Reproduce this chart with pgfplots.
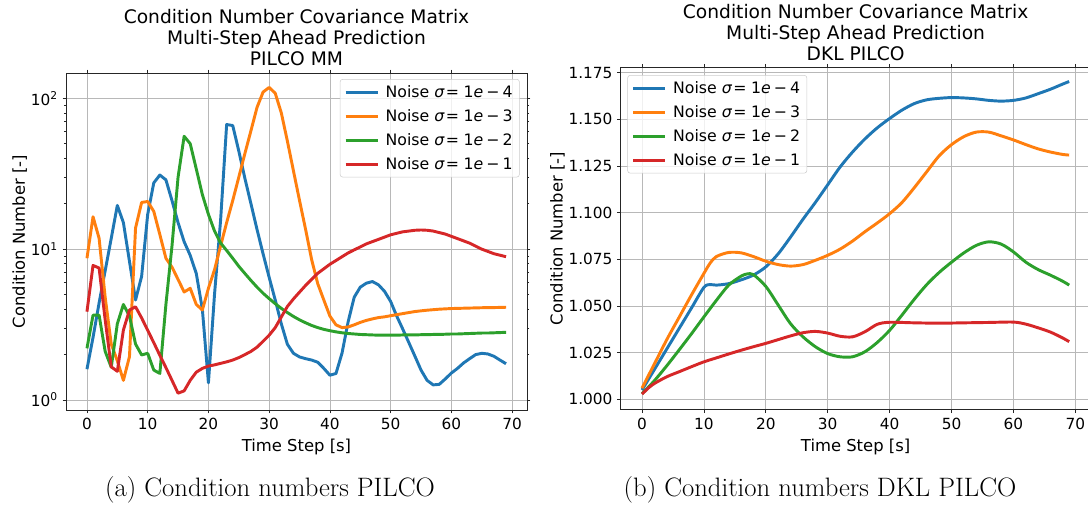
\documentclass[border=0pt]{standalone}
\usepackage{fontspec}
\newfontfamily\dejavu{DejaVu Sans}
\usepackage{pgfplots}
\pgfplotsset{compat=1.18}

\definecolor{tabblue}{HTML}{1F77B4}
\definecolor{taborange}{HTML}{FF7F0E}
\definecolor{tabgreen}{HTML}{2CA02C}
\definecolor{tabred}{HTML}{D62728}

\newcommand{\noise}[1]{Noise \textit{σ}\hspace{0.08em}=\hspace{0.28em}1\textit{e}\hspace{0.2em}−\hspace{0.2em}#1}

\pgfplotsset{
  mpl/.style={
    scale only axis,
    axis line style={black!85, line width=0.6pt},
    tick align=outside,
    major tick length=2.6pt,
    minor tick length=1.6pt,
    tick style={black!85, line width=0.6pt},
    grid=major,
    major grid style={black!28, line width=0.6pt},
    xmin=-3.45, xmax=72.45,
    xtick={0,10,...,70},
    tick label style={font=\dejavu\fontsize{11.5}{13}\selectfont},
    label style={font=\dejavu\fontsize{12.3}{14}\selectfont},
    ylabel shift=-4pt,
    title style={font=\dejavu\fontsize{14}{15.75}\selectfont, align=center,
                 yshift=-4.3pt},
    /pgf/number format/assume math mode=true,
    legend cell align=left,
    legend image code/.code={\draw[#1] (0pt,0pt) -- (24pt,0pt);},
    legend style={draw=black!20, rounded corners=2pt, fill=white,
                  fill opacity=0.8, text opacity=1,
                  font=\dejavu\fontsize{11.8}{13}\selectfont,
                  inner xsep=3pt, inner ysep=2.5pt, row sep=3.5pt,
                  /tikz/every odd column/.append style={column sep=3pt}},
    every axis plot/.append style={line width=2.2pt, line join=round},
  },
}

\begin{document}
\begin{tikzpicture}
\path[use as bounding box] (0,0) rectangle (816pt,-380.25pt);

%% (a) PILCO MM
\begin{axis}[
  mpl,
  at={(49.5pt,-54.75pt)}, anchor=north west,
  width=345.75pt, height=252.75pt,
  ymode=log,
  ymin=0.8586, ymax=147.1,
  ytick={1,10,100},
  yticklabels={10\textsuperscript{0},10\textsuperscript{1},10\textsuperscript{2}},
  title={Condition Number Covariance Matrix\\Multi-Step Ahead Prediction\\PILCO MM},
  xlabel={Time Step [s]},
  ylabel={Condition Number [-]},
  legend style={at={(1,1)}, anchor=north east, xshift=-5.5pt, yshift=-4.5pt},
]
\addplot[tabblue] coordinates {
(0,1.6)(1,2.6)(2,4.4)(3,7.2)(4,11.8)(5,19.5)(6,15)(7,8.3)(8,4.6)(9,6.6)
(10,17)(11,27.5)(12,31)(13,28.8)(14,21)(15,15)(16,11.2)(17,9.1)(18,6.9)(19,4.0)
(20,1.3)(21,5)(22,15.5)(23,67)(24,66)(25,44.7)(26,29.5)(27,20)(28,13.5)(29,9.3)
(30,6.5)(31,4.6)(32,3.2)(33,2.34)(34,2.04)(35,1.93)(36,1.88)(37,1.84)(38,1.78)(39,1.62)
(40,1.46)(41,1.5)(42,2.05)(43,3.3)(44,4.8)(45,5.6)(46,5.95)(47,6.1)(48,5.8)(49,5.25)
(50,4.5)(51,3.6)(52,2.95)(53,2.4)(54,1.95)(55,1.58)(56,1.35)(57,1.26)(58,1.27)(59,1.38)
(60,1.51)(61,1.62)(62,1.76)(63,1.88)(64,2.0)(65,2.04)(66,2.02)(67,1.95)(68,1.84)(69,1.74)
};
\addlegendentry{\noise{4}}
\addplot[taborange] coordinates {
(0,8.7)(1,16.4)(2,11.8)(3,4.8)(4,2.35)(5,1.82)(6,1.35)(7,1.94)(8,13.8)(9,20.4)
(10,20.7)(11,17.8)(12,12.5)(13,8.7)(14,7.6)(15,6.3)(16,5.2)(17,5.5)(18,4.3)(19,3.95)
(20,5.5)(21,7.3)(22,10.5)(23,15)(24,21)(25,30)(26,43)(27,61)(28,87)(29,110)
(30,118)(31,108)(32,80)(33,52)(34,33)(35,21)(36,13.5)(37,8.5)(38,5.9)(39,4.6)
(40,3.6)(41,3.15)(42,3.02)(43,3.05)(44,3.15)(45,3.27)(46,3.37)(47,3.45)(48,3.52)(49,3.56)
(50,3.62)(51,3.68)(52,3.74)(53,3.8)(54,3.86)(55,3.9)(56,3.94)(57,3.97)(58,4.0)(59,4.02)
(60,4.04)(61,4.05)(62,4.06)(63,4.07)(64,4.08)(65,4.09)(66,4.1)(67,4.1)(68,4.11)(69,4.12)
};
\addlegendentry{\noise{3}}
\addplot[tabgreen] coordinates {
(0,2.2)(1,3.65)(2,3.65)(3,2.1)(4,1.65)(5,3.2)(6,4.3)(7,3.6)(8,2.35)(9,1.99)
(10,2.04)(11,1.58)(12,1.5)(13,4.3)(14,10.5)(15,30)(16,56)(17,50)(18,34)(19,23)
(20,17)(21,13.2)(22,11)(23,9.8)(24,8.7)(25,7.7)(26,6.9)(27,6.2)(28,5.6)(29,5.1)
(30,4.7)(31,4.35)(32,4.05)(33,3.8)(34,3.58)(35,3.4)(36,3.25)(37,3.12)(38,3.02)(39,2.94)
(40,2.88)(41,2.83)(42,2.79)(43,2.76)(44,2.74)(45,2.72)(46,2.71)(47,2.7)(48,2.69)(49,2.69)
(50,2.69)(51,2.69)(52,2.7)(53,2.7)(54,2.7)(55,2.71)(56,2.71)(57,2.72)(58,2.72)(59,2.73)
(60,2.74)(61,2.74)(62,2.75)(63,2.76)(64,2.77)(65,2.78)(66,2.78)(67,2.79)(68,2.8)(69,2.81)
};
\addlegendentry{\noise{2}}
\addplot[tabred] coordinates {
(0,3.85)(1,7.8)(2,7.5)(3,3.4)(4,1.66)(5,1.55)(6,2.91)(7,3.95)(8,4.15)(9,3.5)
(10,2.9)(11,2.4)(12,1.98)(13,1.64)(14,1.35)(15,1.11)(16,1.15)(17,1.35)(18,1.53)(19,1.62)
(20,1.68)(21,1.71)(22,1.75)(23,1.79)(24,1.84)(25,1.91)(26,2.0)(27,2.1)(28,2.24)(29,2.45)
(30,2.69)(31,3.02)(32,3.55)(33,4.17)(34,4.68)(35,5.19)(36,5.75)(37,6.31)(38,6.92)(39,7.41)
(40,7.94)(41,8.41)(42,8.91)(43,9.44)(44,9.89)(45,10.35)(46,10.84)(47,11.22)(48,11.61)(49,12.02)
(50,12.45)(51,12.74)(52,13.03)(53,13.18)(54,13.34)(55,13.4)(56,13.34)(57,13.18)(58,12.88)(59,12.59)
(60,12.16)(61,11.75)(62,11.35)(63,10.96)(64,10.47)(65,10.0)(66,9.66)(67,9.33)(68,9.12)(69,8.91)
};
\addlegendentry{\noise{1}}
\end{axis}

%% (b) DKL PILCO
\begin{axis}[
  mpl,
  at={(465.5pt,-50.5pt)}, anchor=north west,
  width=352.4pt, height=256.8pt,
  ymin=0.99443, ymax=1.1779,
  ytick={1.000,1.025,...,1.176},
  scaled y ticks=false,
  yticklabel style={/pgf/number format/.cd, fixed, fixed zerofill, precision=3},
  title={Condition Number Covariance Matrix\\Multi-Step Ahead Prediction\\DKL PILCO},
  xlabel={Time Step [s]},
  ylabel={Condition Number [-]},
  legend style={at={(0,1)}, anchor=north west, xshift=5pt, yshift=-5.8pt},
  every axis plot/.append style={smooth, tension=0.5},
]
\addplot[tabblue] coordinates {
(0,1.005)(2,1.016)(4,1.027)(6,1.038)(8,1.049)(10,1.0600)(11,1.0615)(12,1.0612)(14,1.062)
(16,1.064)(18,1.0666)(20,1.071)(22,1.078)(24,1.087)(26,1.0965)(28,1.1055)(30,1.115)
(32,1.1245)(34,1.1325)(36,1.1395)(38,1.1455)(40,1.1505)(42,1.155)(44,1.1585)(46,1.1605)
(48,1.1613)(50,1.1617)(52,1.1615)(54,1.161)(56,1.1602)(58,1.1598)(60,1.1602)(62,1.1615)
(64,1.1638)(66,1.1662)(68,1.169)(69,1.1703)
};
\addlegendentry{\noise{4}}
\addplot[taborange] coordinates {
(0,1.006)(2,1.019)(4,1.032)(6,1.044)(8,1.056)(10,1.0675)(11,1.073)(12,1.0765)(14,1.0787)
(16,1.0785)(18,1.0765)(20,1.0740)(22,1.0722)(24,1.0714)(26,1.0722)(28,1.0745)(30,1.0772)
(32,1.0805)(34,1.0848)(36,1.0898)(38,1.0945)(40,1.0995)(42,1.1055)(44,1.1135)(46,1.122)
(48,1.1305)(50,1.1365)(52,1.1408)(54,1.1432)(56,1.1432)(58,1.1412)(60,1.139)(62,1.1365)
(64,1.1342)(66,1.1325)(68,1.1312)(69,1.1309)
};
\addlegendentry{\noise{3}}
\addplot[tabgreen] coordinates {
(0,1.003)(2,1.010)(4,1.018)(6,1.0265)(8,1.0352)(10,1.0442)(12,1.053)(14,1.0612)(16,1.066)
(17,1.0672)(18,1.0668)(20,1.0605)(22,1.0505)(24,1.0405)(26,1.0335)(28,1.0282)(30,1.0245)
(32,1.0228)(34,1.0228)(36,1.0255)(38,1.0305)(40,1.0370)(42,1.0452)(44,1.0537)(46,1.0615)
(48,1.0680)(50,1.0735)(52,1.0785)(54,1.0825)(56,1.0844)(58,1.0832)(60,1.0790)(62,1.0735)
(64,1.0695)(66,1.0665)(68,1.0632)(69,1.0612)
};
\addlegendentry{\noise{2}}
\addplot[tabred] coordinates {
(0,1.0028)(1,1.006)(2,1.0085)(4,1.0121)(6,1.0148)(8,1.0175)(10,1.0201)(12,1.0222)(14,1.0243)
(16,1.0263)(18,1.0282)(20,1.0300)(22,1.0320)(24,1.0340)(26,1.0357)(28,1.0364)(30,1.0355)
(32,1.0338)(34,1.0335)(36,1.0362)(38,1.0402)(40,1.0413)(44,1.0410)(48,1.0408)(52,1.0410)
(56,1.0412)(60,1.0414)(62,1.0403)(64,1.0383)(66,1.0360)(68,1.0328)(69,1.0309)
};
\addlegendentry{\noise{1}}
\end{axis}

\node[anchor=base, font=\fontsize{20}{24}\selectfont] at (202.5pt,-372.4pt)
  {(a) Condition numbers PILCO};
\node[anchor=base, font=\fontsize{20}{24}\selectfont] at (615pt,-372.4pt)
  {(b) Condition numbers DKL PILCO};
\end{tikzpicture}
\end{document}
